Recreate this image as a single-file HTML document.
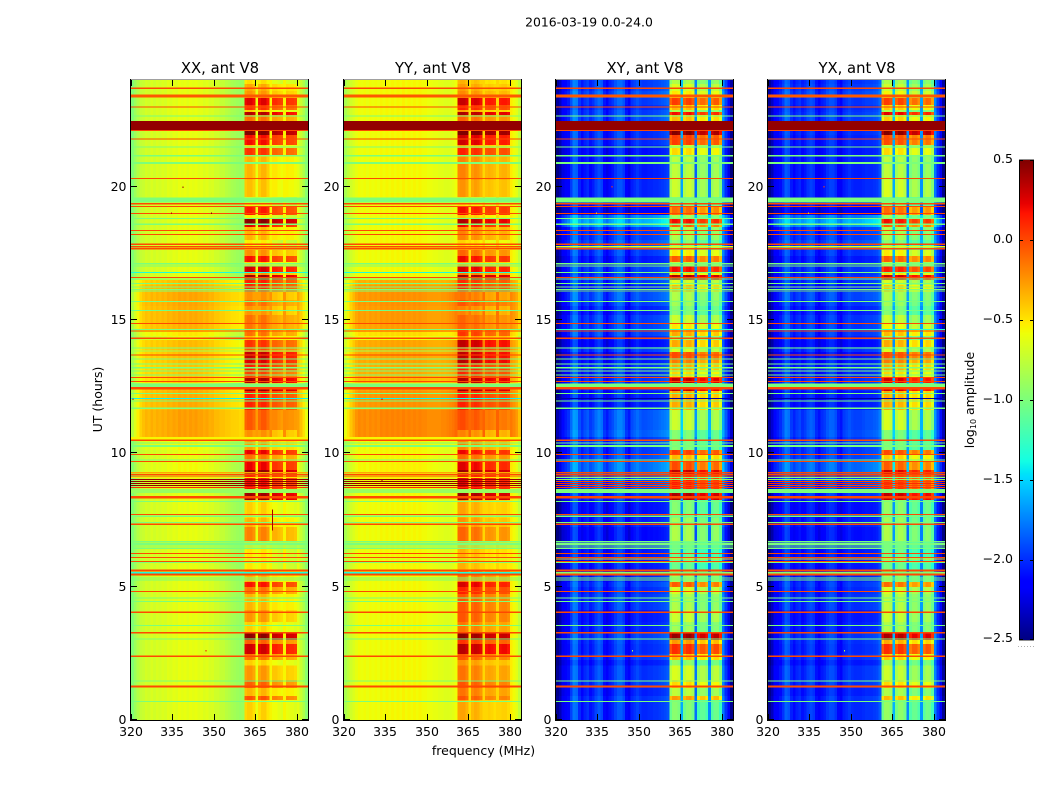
<!DOCTYPE html>
<html>
<head>
<meta charset="utf-8">
<title>2016-03-19 0.0-24.0</title>
<style>
html,body{margin:0;padding:0;background:#fff;}
svg{display:block;}
text{font-family:"DejaVu Sans","Liberation Sans",sans-serif;fill:#000;}
</style>
</head>
<body>
<svg id="fig" width="1050" height="800" viewBox="0 0 1050 800" xmlns="http://www.w3.org/2000/svg">
<text x="589" y="26.5" font-size="12.4" text-anchor="middle">2016-03-19 0.0-24.0</text>
<text x="483.5" y="755" font-size="12.5" text-anchor="middle">frequency (MHz)</text>
<text x="102" y="399.5" font-size="12.5" text-anchor="middle" transform="rotate(-90 102 399.5)">UT (hours)</text>
<text x="974" y="400" font-size="12.5" text-anchor="middle" transform="rotate(-90 974 400)">log<tspan font-size="8" dy="2">10</tspan><tspan dy="-2"> amplitude</tspan></text>
</svg>
<script>
/* ---------- chart data: tick labels ---------- */
var panelTitles = ["XX, ant V8", "YY, ant V8", "XY, ant V8", "YX, ant V8"];
var freqTicks = [320, 335, 350, 365, 380];
var utTicks = [0, 5, 10, 15, 20];
var colorTicks = [0.5, 0.0, -0.5, -1.0, -1.5, -2.0, -2.5];

/* ---------- spectra: log10 amplitude per 1 MHz channel (320..383).
   Channels inside subBands hold an offset relative to the high-band level. ---------- */
var subBands = [[361, 365], [366, 370], [371, 375], [376, 380]];
var specXX = [-0.98,-0.88,-0.8,-0.74,-0.72,-0.68,-0.7,-0.66,-0.69,-0.66,-0.68,-0.65,-0.67,-0.63,-0.65,-0.62,-0.64,-0.6,-0.62,-0.6,-0.63,-0.6,-0.62,-0.6,-0.63,-0.62,-0.65,-0.63,-0.67,-0.66,-0.7,-0.7,-0.74,-0.74,-0.78,-0.8,-0.84,-0.86,-0.88,-0.9,-0.88,0.04,0.08,0.08,0.02,-0.6,0.02,0.08,0.08,0.0,-0.55,-0.08,-0.08,-0.12,-0.15,-0.55,-0.1,-0.12,-0.12,-0.15,-0.62,-0.72,-0.82,-0.95];
var specYY = [-0.85,-0.78,-0.72,-0.68,-0.64,-0.6,-0.62,-0.6,-0.63,-0.6,-0.62,-0.6,-0.62,-0.58,-0.6,-0.58,-0.6,-0.58,-0.6,-0.58,-0.6,-0.57,-0.6,-0.58,-0.6,-0.58,-0.6,-0.58,-0.6,-0.6,-0.62,-0.62,-0.64,-0.64,-0.66,-0.66,-0.68,-0.68,-0.68,-0.66,-0.62,0.1,0.12,0.12,0.06,-0.5,0.04,0.08,0.06,0.0,-0.48,-0.05,-0.03,-0.05,-0.08,-0.48,-0.05,-0.03,-0.03,-0.07,-0.55,-0.6,-0.66,-0.78];
var specXY = [-2.45,-2.36,-2.21,-2.16,-2.11,-1.94,-1.78,-1.81,-2.01,-2.11,-2.03,-1.98,-2.08,-2.03,-1.93,-1.86,-1.92,-2.11,-2.18,-2.08,-2.02,-1.93,-1.86,-1.86,-1.93,-2.11,-2.18,-2.03,-1.98,-1.93,-1.98,-2.02,-2.02,-2.0,-2.0,-1.98,-1.98,-1.96,-1.94,-1.92,-1.88,-0.08,0.05,0.05,0.0,-1.62,-0.05,0.03,0.05,-0.05,-1.8,-0.2,-0.1,-0.1,-0.2,-1.72,-0.15,-0.05,-0.05,-0.25,-1.76,-1.98,-2.18,-2.45];
var specYX = [-2.45,-2.34,-2.18,-2.14,-2.08,-1.98,-1.84,-1.88,-2.04,-2.11,-2.04,-2.0,-2.08,-2.04,-1.96,-1.92,-1.96,-2.1,-2.16,-2.08,-2.04,-1.96,-1.91,-1.92,-1.98,-2.11,-2.16,-2.04,-2.0,-1.96,-2.0,-2.02,-2.02,-2.02,-2.0,-1.98,-1.98,-1.98,-1.96,-1.94,-1.86,-0.1,0.05,0.05,-0.02,-1.6,-0.08,0.02,0.02,-0.08,-1.72,-0.22,-0.12,-0.12,-0.22,-1.68,-0.18,-0.08,-0.1,-0.28,-1.76,-1.98,-2.18,-2.45];
/* how strongly each channel responds to the low-band gain */
var lowResponse = [0.6,0.7,0.8,0.9,1,1,1,1,1,1,1,1,1,1,1,1,1,1,1,1,1,1,1,1,1,1,1,1,1,1,1,1,1.05,1.05,1.1,1.15,1.2,1.25,1.3,1.3,1.3,1,1,1,1,1,1,1,1,1,1,1,1,1,1,1,1,1,1,1,1,1,1,1];

/* ---------- time segments: start UT (descending from 24), ending at 0 ---------- */
var segTop = [24.00,23.85,23.59,23.33,23.06,22.88,22.80,22.69,22.46,21.94,21.56,21.45,21.19,20.25,19.61,19.24,18.94,18.79,18.60,18.49,18.00,17.63,17.40,17.18,17.03,16.80,16.69,16.50,16.31,16.05,15.75,15.53,15.19,14.89,14.63,14.40,14.25,13.99,13.80,13.50,13.39,13.13,12.83,12.64,12.45,12.34,11.63,10.88,10.61,10.13,9.94,9.68,9.38,9.19,8.66,8.51,8.25,7.58,7.24,6.71,5.63,5.18,4.99,4.73,4.13,3.68,3.26,3.00,2.85,2.48,2.25,2.05,1.50,1.20,0.90,0.75];

/* high-band level per segment, one array per polarisation */
var highXX = [-.55,-.38,-.32,.18,0,-.5,.3,-.2,.45,.12,-.5,0,-.42,-.45,-.65,.08,-.6,.4,.18,-.42,-.6,-.3,.1,-.5,.22,-.3,.35,.05,.03,-.3,-.2,-.32,-.2,-.22,-.2,-.45,0,-.08,.25,.18,.08,-.05,.32,-.35,.38,.05,-.12,-.3,-.35,.15,-.2,.15,.38,.12,-.35,.35,-.5,-.42,-.25,-.58,-.42,.1,-.2,-.42,-.32,-.5,.4,-.15,.22,-.2,-.5,-.32,-.15,-.42,-.1,-.5];
var highYY = [-.45,-.38,-.32,.2,.02,-.4,.28,-.2,.45,.18,-.4,.02,-.3,-.35,-.6,.08,-.5,.26,.1,-.3,-.55,-.2,.1,-.4,.16,-.25,.32,-.03,0,-.25,-.15,-.3,-.2,-.2,-.05,-.35,.22,.04,.22,.24,.02,0,.26,-.35,.32,.02,-.12,-.3,-.3,.1,-.2,.14,.32,.14,-.3,.32,-.4,-.35,-.2,-.45,-.25,.16,.02,-.15,-.15,-.25,.35,-.05,.24,-.15,-.35,-.25,-.15,-.25,-.15,-.4];
var highXY = [-.85,-.7,-.55,0,-.4,-.85,.15,-.4,.45,0,-.75,-.5,-.8,-.75,-1,-.15,-.9,.15,-.1,-.85,-1,-.55,-.1,-.8,.15,-.5,.35,-.7,-.4,-.85,-.9,-1,-.75,-.55,-.35,-.9,-.35,-.7,-.05,-.2,-.35,-.5,.3,-.95,.3,-.35,-.75,-1,-1,0,-.4,-.05,.3,.1,-.9,.35,-1,-.9,-.85,-1.1,-.9,-.1,-.7,-.85,-.75,-.9,.4,-.3,.05,-.4,-.95,-.7,-.5,-.8,-.3,-1];
var highYX = [-.85,-.75,-.6,0,-.45,-.85,.2,-.45,.45,-.05,-.75,-.5,-.8,-.7,-1,-.15,-.9,.15,-.1,-.85,-1,-.55,-.1,-.8,.1,-.5,.3,-.7,-.45,-.85,-.9,-1,-.75,-.6,-.4,-.9,-.35,-.7,-.05,-.2,-.35,-.5,.25,-.95,.25,-.35,-.7,-1,-1,-.05,-.45,-.1,.25,.05,-.95,.3,-.95,-.9,-.85,-1.05,-.9,-.15,-.7,-.8,-.75,-.85,.35,-.35,.05,-.45,-.9,-.75,-.5,-.85,-.4,-.95];

/* low-band gain per segment, one array per polarisation */
var lowXX = [0,0,0,0,0,0,0,0,0,0,0,0,0,0,0,0,0,0,0,0,0,0,0,0,0,0,0,.25,.3,.32,.32,.3,.3,.28,.1,0,.25,.25,.24,.24,.22,.22,.2,-.08,.28,.3,.34,.34,.05,0,0,.04,.05,0,0,0,0,0,0,0,0,0,0,0,0,0,0,0,0,0,0,0,0,0,0,0];
var lowYY = [.03,.03,.03,.03,.03,.03,.03,.03,.03,.03,.03,.03,.03,.03,.03,.03,.03,.03,.03,.03,.03,.03,.03,.03,.03,.03,.03,.28,.34,.36,.36,.34,.34,.32,.12,.02,.3,.3,.3,.3,.28,.28,.25,-.05,.32,.36,.4,.4,.05,.03,.03,.05,.05,.03,.03,.03,.03,.03,.03,.03,.03,.03,.03,.03,.03,.03,.03,.03,.03,.03,.03,.03,.03,.03,.03,.03];
var lowXY = [.05,.05,.1,.05,0,.05,.05,.08,0,0,-.05,-.08,-.05,-.02,-.05,-.15,.25,.4,.35,.05,.1,.03,-.05,-.05,.05,0,.03,.05,-.05,.1,.05,-.03,.05,.05,.05,-.02,-.1,.05,-.08,-.05,.02,-.02,.03,.1,0,-.05,.12,.15,.05,.05,.1,.2,.2,.1,.25,0,-.08,-.03,-.1,-.05,-.02,.05,0,.03,-.05,-.03,.05,.02,0,.03,-.05,.02,.03,-.03,.02,0];
var lowYX = [.03,.05,.08,.03,0,.03,.05,.05,0,-.02,-.05,-.05,-.03,-.02,-.08,-.18,.22,.4,.32,.05,.1,.02,-.05,-.03,.03,0,.02,.03,-.05,.08,.03,-.03,.03,.03,.03,-.02,-.1,.03,-.08,-.05,0,-.02,.02,.1,0,-.05,.08,.1,.05,.05,.08,.18,.18,.08,.22,0,-.08,-.03,-.08,-.05,-.02,.03,0,.02,-.05,-.03,.03,.02,0,.02,-.05,.02,.02,-.03,.02,0];

/* ---------- horizontal flagged rows: centre UT, duration (hours), value for co-pol / cross-pol ---------- */
var flagUT    = [23.69,23.40,22.98,22.65,22.28,22.10,21.78,21.48,21.16,20.89,20.31,19.50,19.36,19.26,19.00,18.80,18.59,18.35,18.21,17.84,17.75,17.67,17.11,17.02,16.78,16.59,16.53,16.37,16.23,16.15,16.08,15.70,15.36,14.87,14.65,14.58,14.31,13.95,13.83,13.68,13.53,13.35,13.21,13.08,12.93,12.85,12.70,12.55,12.44,12.25,12.06,11.96,11.69,10.57,10.49,10.38,10.28,9.96,9.75,9.70,9.27,9.21,9.15,9.09,9.02,8.945,8.87,8.795,8.72,8.59,8.36,8.19,7.71,7.64,7.41,7.34,6.69,6.60,6.52,6.44,6.25,6.10,6.03,5.95,5.90,5.60,5.52,5.45,5.32,5.25,4.82,4.57,4.45,4.04,3.55,3.27,3.03,2.39,1.47,1.25,0.69];
var flagHours = [.04,.11,.04,.04,.35,.04,.04,.04,.04,.08,.04,.2,.04,.04,.04,.04,.04,.04,.04,.05,.05,.05,.04,.04,.04,.04,.04,.04,.04,.04,.04,.04,.04,.04,.04,.04,.06,.04,.04,.04,.04,.04,.04,.04,.04,.04,.04,.15,.08,.04,.04,.04,.04,.1,.04,.04,.07,.04,.04,.04,.06,.04,.04,.04,.0375,.0375,.0375,.0375,.0375,.16,.09,.04,.04,.06,.04,.04,.06,.06,.04,.04,.04,.04,.04,.04,.04,.08,.06,.07,.04,.04,.04,.04,.04,.04,.04,.07,.04,.04,.04,.08,.04];
var flagCo    = [0,-.05,0,-1,.45,0,0,-1,-1,-1,0,-1,0,0,0,-1,-1,0,0,0,0,0,-1,-1,-1.35,0,-1,-1,-1,-1,-1,-1,-1.05,0,-1,0,0,-1,-.85,0,-1,-1,-1,-1,-1,0,0,-1,0,-1,-1.4,-1,-1,-.55,0,-1,-1,0,-1,0,-.3,0,0,-.5,.45,.45,.45,.45,.1,-.9,0,-1,0,-1,-1,0,-1,-1,-1,-1,0,0,-.7,0,-1,0,-1.35,0,-1,-1,0,-1,-1,0,-1,0,-1,0,-1,0,-1];
var flagCross = [0,-.05,0,-1,.45,0,0,-1,-1,-1,0,-1,0,0,0,-1,-1,0,0,0,-.6,0,-1,-1,-1,0,-1,-1,-1,-1,-1,-1,-1,0,-1.3,0,0,-1,null,0,-1,-1,-1,-1,-1,0,0,-1,0,-1,-2.4,-1,-1,null,0,-1,-1,0,-1,0,0,0,0,-1,-.9,0,.1,0,.05,-1,0,-1,0,-1,-1,0,-1,-1,-1,-1,0,0,-.5,0,-1,0,-1,0,-1,-1,0,-1,-1,0,-1,0,-1,0,-1,0,-1];

/* ---------- isolated pixels and spikes: panel, MHz, UT, duration, value ---------- */
var speckPanel = [0,0,0,0,0,0,1,1,2,3,2,3,2,3];
var speckFreq  = [338.7,334.5,349,347,371,320.5,333.5,333.6,340,340,347.5,347.5,334.5,334.5];
var speckUT    = [19.98,19.0,19.0,2.6,7.5,12.03,12.03,8.98,20.0,20.0,2.6,2.6,19.0,19.0];
var speckDur   = [.05,.06,.05,.05,.8,.05,.06,.05,.05,.05,.05,.05,.05,.05];
var speckVal   = [.45,.3,.45,.2,.4,.3,.3,.45,0,0,-.8,-.8,-.4,-.4];

/* ---------- axis functions ---------- */
var panelLeft = [131, 344, 556, 768];
var panelNames = ['xx', 'yy', 'xy', 'yx'];
var PW = 177, PT = 80, PB = 720;
var SVGNS = 'http://www.w3.org/2000/svg';
var svg = document.getElementById('fig');
function xScale(p, f) { return panelLeft[p] + (f - 320) / 64 * PW; }
function yScale(u) { return PB - u / 24 * (PB - PT); }
function cbScale(v) { return 640 - (v + 2.5) / 3 * 480; }

function seg(t, pts) {
  for (var i = 1; i < pts.length; i++) {
    if (t <= pts[i][0]) {
      var a = pts[i - 1], b = pts[i];
      return a[1] + (b[1] - a[1]) * (t - a[0]) / (b[0] - a[0]);
    }
  }
  return pts[pts.length - 1][1];
}
function jet(v) {
  var t = Math.max(0, Math.min(1, (v + 2.5) / 3));
  var r = seg(t, [[0, 0], [.35, 0], [.66, 1], [.89, 1], [1, .5]]);
  var g = seg(t, [[0, 0], [.125, 0], [.375, 1], [.64, 1], [.91, 0], [1, 0]]);
  var b = seg(t, [[0, .5], [.11, 1], [.34, 1], [.65, 0], [1, 0]]);
  return 'rgb(' + Math.round(r * 255) + ',' + Math.round(g * 255) + ',' + Math.round(b * 255) + ')';
}
function addGroup(parent, name) {
  var g = document.createElementNS(SVGNS, 'g');
  
  
  parent.appendChild(g);
  return g;
}
function addRect(parent, name, x, y, w, h, fill) {
  var el = document.createElementNS(SVGNS, 'rect');
  
  
  el.setAttribute('x', x);
  el.setAttribute('y', y);
  el.setAttribute('width', w);
  el.setAttribute('height', h);
  el.setAttribute('fill', fill);
  parent.appendChild(el);
  return el;
}
function addText(parent, name, x, y, size, anchor, str) {
  var el = document.createElementNS(SVGNS, 'text');
  
  
  el.setAttribute('x', x);
  el.setAttribute('y', y);
  el.setAttribute('font-size', size);
  el.setAttribute('text-anchor', anchor);
  el.textContent = str;
  parent.appendChild(el);
  return el;
}
function isSub(ch) {
  for (var i = 0; i < subBands.length; i++) {
    if (ch >= subBands[i][0] && ch < subBands[i][1]) return true;
  }
  return false;
}

var spectra = [specXX, specYY, specXY, specYX];
var highs = [highXX, highYY, highXY, highYX];
var lows = [lowXX, lowYY, lowXY, lowYX];
var fmtMinus = function (v, d) { return (v < 0 ? '\u2212' : '') + Math.abs(v).toFixed(d); };

for (var p = 0; p < 4; p++) {
  var panel = addGroup(svg, panelNames[p] + '-panel');
  var cells = addGroup(panel, panelNames[p] + '-heatmap');
  cells.setAttribute('shape-rendering', 'crispEdges');
  var spec = spectra[p], hi = highs[p], lo = lows[p];
  for (var s = 0; s < segTop.length; s++) {
    var u1 = segTop[s];
    var u0 = s + 1 < segTop.length ? segTop[s + 1] : 0;
    var y1 = yScale(u1), y0 = yScale(u0);
    for (var c = 0; c < spec.length; c++) {
      var ch = 320 + c;
      var val = isSub(ch) ? spec[c] + hi[s] : spec[c] + lo[s] * lowResponse[c];
      addRect(cells, 'heatmap-cell', xScale(p, ch), y1, xScale(p, ch + 1) - xScale(p, ch), y0 - y1, jet(val));
    }
  }
  var rows = addGroup(panel, panelNames[p] + '-flagged-rows');
  rows.setAttribute('shape-rendering', 'crispEdges');
  for (var f = 0; f < flagUT.length; f++) {
    var fv = p < 2 ? flagCo[f] : flagCross[f];
    if (fv === null) continue;
    var ft = yScale(flagUT[f] + flagHours[f] / 2);
    var fh = Math.max(1, yScale(flagUT[f] - flagHours[f] / 2) - ft);
    addRect(rows, 'flagged-row', xScale(p, 320), ft, PW, fh, jet(fv));
  }
  for (var k = 0; k < speckPanel.length; k++) {
    if (speckPanel[k] !== p) continue;
    var st = yScale(speckUT[k] + speckDur[k] / 2);
    var sh = Math.max(1, yScale(speckUT[k] - speckDur[k] / 2) - st);
    addRect(rows, 'hot-pixel', xScale(p, speckFreq[k]), st, 1, sh, jet(speckVal[k]));
  }

  /* frame */
  var L = panelLeft[p], frame = addGroup(panel, panelNames[p] + '-frame');
  frame.setAttribute('shape-rendering', 'crispEdges');
  addRect(frame, 'spine-top', L - 1, PT - 1, PW + 2, 1, '#a0a0a0');
  addRect(frame, 'spine-bottom', L - 1, PB, PW + 2, 1, '#000');
  addRect(frame, 'spine-left', L - 1, PT - 1, 1, PB - PT + 2, '#000');
  addRect(frame, 'spine-right', L + PW, PT - 1, 1, PB - PT + 2, '#000');

  /* ticks */
  var ticks = addGroup(panel, panelNames[p] + '-ticks');
  ticks.setAttribute('shape-rendering', 'crispEdges');
  for (var i = 0; i < freqTicks.length; i++) {
    var tx = Math.round(xScale(p, freqTicks[i]));
    addRect(ticks, 'x-tick', tx, PB - 6, 1, 6, '#000');
    addRect(ticks, 'x-tick-top', tx, PT, 1, 6, '#000');
    addText(panel, 'x-tick-label', tx, 736, 12.5, 'middle', String(freqTicks[i]));
  }
  for (var j = 0; j < utTicks.length; j++) {
    var ty = Math.round(yScale(utTicks[j]));
    addRect(ticks, 'y-tick', L, ty - 1, 6, 1, '#000');
    addRect(ticks, 'y-tick-right', L + PW - 6, ty - 1, 6, 1, '#000');
    addText(panel, 'y-tick-label', L - 4.5, ty + 4, 12.5, 'end', String(utTicks[j]));
  }
  addText(panel, panelNames[p] + '-title', L + PW / 2 + 0.5, 73, 14.8, 'middle', panelTitles[p]);
}

/* ---------- colorbar ---------- */
var cb = addGroup(svg, 'colorbar');
var cbBar = addGroup(cb, 'colorbar-gradient');
cbBar.setAttribute('shape-rendering', 'crispEdges');
for (var n = 0; n < 240; n++) {
  var vA = -2.5 + 3 * n / 240, vB = -2.5 + 3 * (n + 1) / 240;
  addRect(cbBar, 'colorbar-step', 1019, cbScale(vB), 15, cbScale(vA) - cbScale(vB) + 0.5, jet((vA + vB) / 2));
}
var cbFrame = addGroup(cb, 'colorbar-frame');
cbFrame.setAttribute('shape-rendering', 'crispEdges');
addRect(cbFrame, 'colorbar-spine-top', 1019, 159, 15, 1, '#909090');
addRect(cbFrame, 'colorbar-spine-bottom', 1019, 640, 15, 1, '#909090');
addRect(cbFrame, 'colorbar-spine-left', 1019, 160, 1, 480, '#000');
addRect(cbFrame, 'colorbar-spine-right', 1033, 160, 1, 480, '#000');
for (var q = 0; q < colorTicks.length; q++) {
  var cy = cbScale(colorTicks[q]);
  addRect(cbFrame, 'colorbar-tick', 1019, Math.min(cy, 639), 4, 1, '#000');
  addRect(cbFrame, 'colorbar-tick-right', 1030, Math.min(cy, 639), 4, 1, '#000');
  addText(cb, 'colorbar-tick-label', 1013, Math.min(cy + 3, 642), 12.5, 'end', fmtMinus(colorTicks[q], 1));
}
for (var d = 0; d < 6; d++) {
  addRect(cbFrame, 'colorbar-dot', 1018 + d * 3, 646, 1, 1, '#b0b0b0');
}
</script>
</body>
</html>
